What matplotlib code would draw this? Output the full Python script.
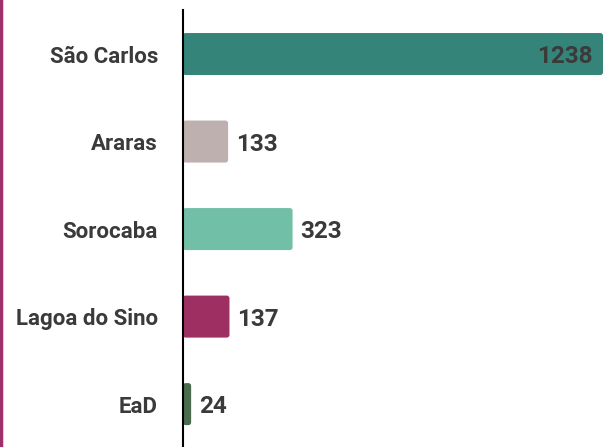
import matplotlib.pyplot as plt
from matplotlib.patches import FancyBboxPatch
from matplotlib.lines import Line2D

# Dados
campi = ["São Carlos", "Araras", "Sorocaba", "Lagoa do Sino", "EaD"]
valores = [1238, 133, 323, 137, 24]
cores = ["#35847a", "#bfb0b0", "#72bfa7", "#9e2f63", "#4a6b4e"]

plt.rcParams['font.family'] = ['Roboto', 'DejaVu Sans']
texto = "#3a3a3a"

fig = plt.figure(figsize=(6.07, 4.47), dpi=100)
ax = fig.add_axes([183 / 607, 0, 420 / 607, 437 / 447])

pos = list(range(len(campi)))
barras = ax.barh(pos, valores, height=0.48, color=cores)

# cantos arredondados
for b, c in zip(barras, cores):
    x, y = b.get_x(), b.get_y()
    w, h = b.get_width(), b.get_height()
    b.set_visible(False)
    ax.add_patch(FancyBboxPatch((x, y), w, h,
                                boxstyle="round,pad=0,rounding_size=8",
                                mutation_aspect=0.0039,
                                facecolor=c, edgecolor="none"))

ax.set_xlim(0, 1238)
ax.set_ylim(4.49, -0.503)
ax.set_yticks(pos)
ax.set_yticklabels(campi, fontsize=16, fontweight="bold", color=texto)
ax.tick_params(axis="y", length=0, pad=18)
ax.set_xticks([])

for s in ["top", "right", "bottom"]:
    ax.spines[s].set_visible(False)
ax.spines["left"].set_linewidth(1.5)
ax.spines["left"].set_color("black")

for i, v in enumerate(valores):
    if v > 1000:
        ax.text(v - 30, i, str(v), ha="right", va="center_baseline",
                fontsize=17.5, fontweight="bold", color=texto)
    else:
        ax.text(v + 23, i, str(v), ha="left", va="center_baseline",
                fontsize=17.5, fontweight="bold", color=texto)

# linha lateral
fig.add_artist(Line2D([1.5 / 607, 1.5 / 607], [0, 1], color="#a0306a",
                      linewidth=2.5, transform=fig.transFigure))

fig.savefig("out.png", dpi=100)
